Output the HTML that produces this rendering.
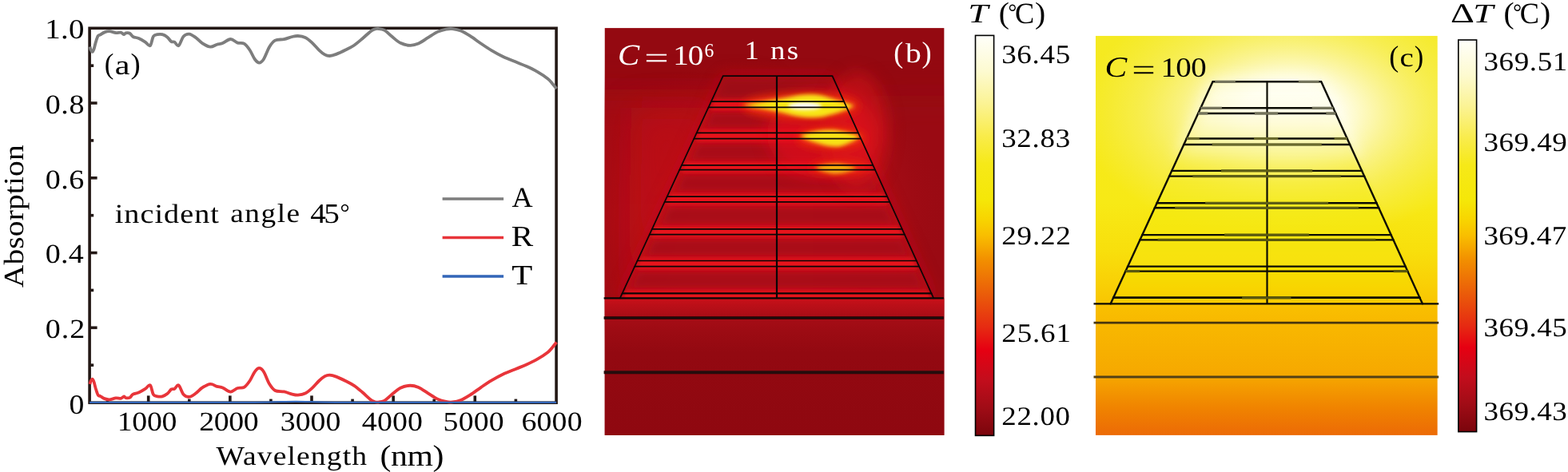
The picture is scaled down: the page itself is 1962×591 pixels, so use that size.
<!DOCTYPE html>
<html><head><meta charset="utf-8"><title>Figure</title>
<style>
html,body{margin:0;padding:0;background:#fff;}
svg{display:block;}
text{font-family:"Liberation Serif","DejaVu Serif",serif;text-rendering:geometricPrecision;}
</style></head>
<body>
<svg width="1962" height="591" viewBox="0 0 1962 591">
<rect width="1962" height="591" fill="#fff"/>
<g fill="none" stroke-linejoin="round" stroke-linecap="butt">
<line x1="185.70" y1="504.25" x2="185.70" y2="495.4" stroke="#231815" stroke-width="3.6"/>
<line x1="134.62" y1="504.25" x2="134.62" y2="499.6" stroke="#231815" stroke-width="3.6"/>
<line x1="287.85" y1="504.25" x2="287.85" y2="495.4" stroke="#231815" stroke-width="3.6"/>
<line x1="236.78" y1="504.25" x2="236.78" y2="499.6" stroke="#231815" stroke-width="3.6"/>
<line x1="390.00" y1="504.25" x2="390.00" y2="495.4" stroke="#231815" stroke-width="3.6"/>
<line x1="338.93" y1="504.25" x2="338.93" y2="499.6" stroke="#231815" stroke-width="3.6"/>
<line x1="492.15" y1="504.25" x2="492.15" y2="495.4" stroke="#231815" stroke-width="3.6"/>
<line x1="441.08" y1="504.25" x2="441.08" y2="499.6" stroke="#231815" stroke-width="3.6"/>
<line x1="594.30" y1="504.25" x2="594.30" y2="495.4" stroke="#231815" stroke-width="3.6"/>
<line x1="543.22" y1="504.25" x2="543.22" y2="499.6" stroke="#231815" stroke-width="3.6"/>
<line x1="645.38" y1="504.25" x2="645.38" y2="499.6" stroke="#231815" stroke-width="3.6"/>
<line x1="112.1" y1="410.30" x2="121.6" y2="410.30" stroke="#231815" stroke-width="3.6"/>
<line x1="112.1" y1="316.55" x2="121.6" y2="316.55" stroke="#231815" stroke-width="3.6"/>
<line x1="112.1" y1="222.80" x2="121.6" y2="222.80" stroke="#231815" stroke-width="3.6"/>
<line x1="112.1" y1="129.05" x2="121.6" y2="129.05" stroke="#231815" stroke-width="3.6"/>
<line x1="112.1" y1="457.18" x2="117.2" y2="457.18" stroke="#231815" stroke-width="3.6"/>
<line x1="112.1" y1="363.43" x2="117.2" y2="363.43" stroke="#231815" stroke-width="3.6"/>
<line x1="112.1" y1="269.68" x2="117.2" y2="269.68" stroke="#231815" stroke-width="3.6"/>
<line x1="112.1" y1="175.93" x2="117.2" y2="175.93" stroke="#231815" stroke-width="3.6"/>
<line x1="112.1" y1="82.18" x2="117.2" y2="82.18" stroke="#231815" stroke-width="3.6"/>
<rect x="112.1" y="35.3" width="584.00" height="468.95" stroke="#231815" stroke-width="3.6" stroke-linejoin="miter"/>
<path d="M112.60,58.50C112.77,59.17 113.12,61.43 113.60,62.50C114.08,63.57 114.85,65.07 115.50,64.90C116.15,64.73 116.82,63.38 117.50,61.50C118.18,59.62 118.75,56.35 119.60,53.60C120.45,50.85 121.58,46.70 122.60,45.00C123.62,43.30 124.33,44.17 125.70,43.40C127.07,42.63 128.93,41.10 130.80,40.40C132.67,39.70 134.53,39.08 136.90,39.20C139.27,39.32 142.62,40.85 145.00,41.10C147.38,41.35 149.50,40.35 151.20,40.70C152.90,41.05 154.18,43.08 155.20,43.20C156.22,43.32 156.10,41.65 157.30,41.40C158.50,41.15 160.87,40.93 162.40,41.70C163.93,42.47 164.63,44.95 166.50,46.00C168.37,47.05 171.07,46.90 173.60,48.00C176.13,49.10 179.32,51.07 181.70,52.60C184.08,54.13 186.20,58.38 187.90,57.20C189.60,56.02 190.38,47.83 191.90,45.50C193.42,43.17 195.13,43.58 197.00,43.20C198.87,42.82 201.05,42.65 203.10,43.20C205.15,43.75 207.42,45.02 209.30,46.50C211.18,47.98 212.88,51.08 214.40,52.10C215.92,53.12 216.88,51.75 218.40,52.60C219.92,53.45 221.62,58.38 223.50,57.20C225.38,56.02 227.48,47.93 229.70,45.50C231.92,43.07 234.27,42.35 236.80,42.60C239.33,42.85 242.18,45.08 244.90,47.00C247.62,48.92 250.03,52.15 253.10,54.10C256.17,56.05 260.25,58.43 263.30,58.70C266.35,58.97 268.85,56.47 271.40,55.70C273.95,54.93 275.75,55.22 278.60,54.10C281.45,52.98 285.38,49.08 288.50,49.00C291.62,48.92 294.47,52.65 297.30,53.60C300.13,54.55 302.95,53.17 305.50,54.70C308.05,56.23 310.40,59.58 312.60,62.80C314.80,66.02 316.75,71.37 318.70,74.00C320.65,76.63 322.42,78.60 324.30,78.60C326.18,78.60 327.87,77.32 330.00,74.00C332.13,70.68 334.73,62.60 337.10,58.70C339.47,54.80 341.15,52.20 344.20,50.60C347.25,49.00 351.83,49.87 355.40,49.10C358.97,48.33 362.70,46.68 365.60,46.00C368.50,45.32 370.08,44.83 372.80,45.00C375.52,45.17 379.02,45.65 381.90,47.00C384.78,48.35 387.20,50.47 390.10,53.10C393.00,55.73 396.58,60.25 399.30,62.80C402.02,65.35 404.20,67.20 406.40,68.40C408.60,69.60 410.12,70.08 412.50,70.00C414.88,69.92 417.30,69.18 420.70,67.90C424.10,66.62 429.17,64.17 432.90,62.30C436.63,60.43 439.70,59.00 443.10,56.70C446.50,54.40 449.90,51.38 453.30,48.50C456.70,45.62 460.97,41.38 463.50,39.40C466.03,37.42 466.87,37.17 468.50,36.60C470.13,36.03 471.18,35.78 473.30,36.00C475.42,36.22 478.33,36.27 481.20,37.90C484.07,39.53 487.18,43.15 490.50,45.80C493.82,48.45 497.35,51.97 501.10,53.80C504.85,55.63 509.25,56.68 513.00,56.80C516.75,56.92 519.85,56.10 523.60,54.50C527.35,52.90 531.52,49.63 535.50,47.20C539.48,44.77 543.73,41.67 547.50,39.90C551.27,38.13 555.02,37.23 558.10,36.60C561.18,35.97 562.92,35.77 566.00,36.10C569.08,36.43 572.85,37.08 576.60,38.60C580.35,40.12 584.30,42.55 588.50,45.20C592.70,47.85 597.38,51.52 601.80,54.50C606.22,57.48 610.37,60.35 615.00,63.10C619.63,65.85 624.52,68.58 629.60,71.00C634.68,73.42 640.63,75.60 645.50,77.60C650.37,79.60 654.38,81.00 658.80,83.00C663.22,85.00 667.58,87.03 672.00,89.60C676.42,92.17 682.13,95.93 685.30,98.40C688.47,100.87 689.17,102.30 691.00,104.40C692.83,106.50 695.42,109.90 696.30,111.00" stroke="#7d7d7d" stroke-width="3.8"/>
<path d="M112.60,481.05C112.77,480.38 113.12,478.12 113.60,477.05C114.08,475.98 114.85,474.48 115.50,474.65C116.15,474.82 116.82,476.17 117.50,478.05C118.18,479.93 118.75,483.20 119.60,485.95C120.45,488.70 121.58,492.85 122.60,494.55C123.62,496.25 124.33,495.38 125.70,496.15C127.07,496.92 128.93,498.45 130.80,499.15C132.67,499.85 134.53,500.47 136.90,500.35C139.27,500.23 142.62,498.70 145.00,498.45C147.38,498.20 149.50,499.20 151.20,498.85C152.90,498.50 154.18,496.47 155.20,496.35C156.22,496.23 156.10,497.90 157.30,498.15C158.50,498.40 160.87,498.62 162.40,497.85C163.93,497.08 164.63,494.60 166.50,493.55C168.37,492.50 171.07,492.65 173.60,491.55C176.13,490.45 179.32,488.48 181.70,486.95C184.08,485.42 186.20,481.17 187.90,482.35C189.60,483.53 190.38,491.72 191.90,494.05C193.42,496.38 195.13,495.97 197.00,496.35C198.87,496.73 201.05,496.90 203.10,496.35C205.15,495.80 207.42,494.53 209.30,493.05C211.18,491.57 212.88,488.47 214.40,487.45C215.92,486.43 216.88,487.80 218.40,486.95C219.92,486.10 221.62,481.17 223.50,482.35C225.38,483.53 227.48,491.62 229.70,494.05C231.92,496.48 234.27,497.20 236.80,496.95C239.33,496.70 242.18,494.47 244.90,492.55C247.62,490.63 250.03,487.40 253.10,485.45C256.17,483.50 260.25,481.12 263.30,480.85C266.35,480.58 268.85,483.08 271.40,483.85C273.95,484.62 275.75,484.33 278.60,485.45C281.45,486.57 285.38,490.47 288.50,490.55C291.62,490.63 294.47,486.90 297.30,485.95C300.13,485.00 302.95,486.38 305.50,484.85C308.05,483.32 310.40,479.97 312.60,476.75C314.80,473.53 316.75,468.18 318.70,465.55C320.65,462.92 322.42,460.95 324.30,460.95C326.18,460.95 327.87,462.23 330.00,465.55C332.13,468.87 334.73,476.95 337.10,480.85C339.47,484.75 341.15,487.35 344.20,488.95C347.25,490.55 351.83,489.68 355.40,490.45C358.97,491.22 362.70,492.87 365.60,493.55C368.50,494.23 370.08,494.72 372.80,494.55C375.52,494.38 379.02,493.90 381.90,492.55C384.78,491.20 387.20,489.08 390.10,486.45C393.00,483.82 396.58,479.30 399.30,476.75C402.02,474.20 404.20,472.35 406.40,471.15C408.60,469.95 410.12,469.47 412.50,469.55C414.88,469.63 417.30,470.37 420.70,471.65C424.10,472.93 429.17,475.38 432.90,477.25C436.63,479.12 439.70,480.55 443.10,482.85C446.50,485.15 449.90,488.17 453.30,491.05C456.70,493.93 460.97,498.17 463.50,500.15C466.03,502.13 466.87,502.38 468.50,502.95C470.13,503.52 471.18,503.77 473.30,503.55C475.42,503.33 478.33,503.28 481.20,501.65C484.07,500.02 487.18,496.40 490.50,493.75C493.82,491.10 497.35,487.58 501.10,485.75C504.85,483.92 509.25,482.87 513.00,482.75C516.75,482.63 519.85,483.45 523.60,485.05C527.35,486.65 531.52,489.92 535.50,492.35C539.48,494.78 543.73,497.88 547.50,499.65C551.27,501.42 555.02,502.32 558.10,502.95C561.18,503.58 562.92,503.78 566.00,503.45C569.08,503.12 572.85,502.47 576.60,500.95C580.35,499.43 584.30,497.00 588.50,494.35C592.70,491.70 597.38,488.03 601.80,485.05C606.22,482.07 610.37,479.20 615.00,476.45C619.63,473.70 624.52,470.97 629.60,468.55C634.68,466.13 640.63,463.95 645.50,461.95C650.37,459.95 654.38,458.55 658.80,456.55C663.22,454.55 667.58,452.52 672.00,449.95C676.42,447.38 682.13,443.62 685.30,441.15C688.47,438.68 689.17,437.25 691.00,435.15C692.83,433.05 695.42,429.65 696.30,428.55" stroke="#e8353a" stroke-width="3.8"/>
<path d="M112.1,503.8 L318,503.8 C345,503.8 355,502.8 370,502.8 C385,502.8 395,503.8 420,503.8 L696.1,503.8" stroke="#3366b8" stroke-width="2.3"/>
<line x1="553.6" y1="248.9" x2="630.1" y2="248.9" stroke="#7d7d7d" stroke-width="3.5"/>
<line x1="553.6" y1="297.4" x2="630.1" y2="297.4" stroke="#e8353a" stroke-width="3.5"/>
<line x1="553.6" y1="345.9" x2="630.1" y2="345.9" stroke="#3366b8" stroke-width="3.5"/>
</g>
<defs>
<clipPath id="cb"><rect x="756.5" y="35.1" width="425.0999999999999" height="509.79999999999995"/></clipPath>
<radialGradient id="bglow" cx="0.5" cy="0.5" r="0.5">
 <stop offset="0" stop-color="#bc0f19" stop-opacity="1"/>
 <stop offset="0.5" stop-color="#ba0f19" stop-opacity="1"/>
 <stop offset="0.75" stop-color="#b00e17" stop-opacity="0.4"/>
 <stop offset="1" stop-color="#a00c14" stop-opacity="0"/>
</radialGradient>
<filter id="bl8" x="-50%" y="-50%" width="200%" height="200%"><feGaussianBlur stdDeviation="8"/></filter>
<filter id="bl14" x="-60%" y="-60%" width="220%" height="220%"><feGaussianBlur stdDeviation="20"/></filter>
<filter id="bl2" x="-50%" y="-100%" width="200%" height="300%"><feGaussianBlur stdDeviation="2"/></filter>
<filter id="bl25" x="-50%" y="-100%" width="200%" height="300%"><feGaussianBlur stdDeviation="2.5"/></filter>
<filter id="bl4" x="-50%" y="-50%" width="200%" height="200%"><feGaussianBlur stdDeviation="4"/></filter>
<filter id="bl3" x="-50%" y="-50%" width="200%" height="200%"><feGaussianBlur stdDeviation="3"/></filter>
<filter id="bl6" x="-50%" y="-50%" width="200%" height="200%"><feGaussianBlur stdDeviation="6"/></filter>
<filter id="bl10" x="-50%" y="-50%" width="200%" height="200%"><feGaussianBlur stdDeviation="10"/></filter>
<linearGradient id="bsub" x1="0" y1="373" x2="0" y2="545" gradientUnits="userSpaceOnUse">
 <stop offset="0" stop-color="#cc1019"/>
 <stop offset="0.05" stop-color="#bc0f18"/>
 <stop offset="0.145" stop-color="#a60d16"/>
 <stop offset="0.25" stop-color="#9c0b13"/>
 <stop offset="0.40" stop-color="#930911"/>
 <stop offset="1" stop-color="#8f0810"/>
</linearGradient>
<filter id="bl1" filterUnits="userSpaceOnUse" x="700" y="380" width="1200" height="120"><feGaussianBlur stdDeviation="0.55"/></filter>
</defs>
<g clip-path="url(#cb)">
<rect x="756.5" y="35.1" width="425.0999999999999" height="509.79999999999995" fill="#940911"/>
<rect x="696.5" y="112" width="263.5" height="290" fill="#a80d16" opacity="0.75" filter="url(#bl14)"/>
<rect x="1090" y="120" width="150" height="280" fill="#a00c14" opacity="0.5" filter="url(#bl14)"/>
<ellipse cx="942" cy="262" rx="242" ry="188" fill="url(#bglow)"/>
<path d="M790,135 L900,135 L800,365 L786,365 Z" fill="#bc0f19" opacity="0.8" filter="url(#bl14)"/>
<path d="M904.7,95.2 L1041.5,95.2 L1168.2,373.3 L775.8,373.3 Z" fill="#c4101a" opacity="0.9" filter="url(#bl10)"/>
<g fill="#980b13" opacity="0.6" filter="url(#bl4)"><path d="M909.5,102.2 L1036.7,102.2 L1044.8,120.1 L901.2,120.1 Z"/><path d="M891.3,141.3 L1054.5,141.3 L1062.7,159.3 L883.0,159.3 Z"/><path d="M873.1,180.7 L1072.5,180.7 L1081.2,199.8 L864.2,199.8 Z"/><path d="M855.0,219.6 L1090.2,219.6 L1099.1,239.1 L846.0,239.1 Z"/><path d="M836.4,259.8 L1108.5,259.8 L1117.6,279.9 L827.1,279.9 Z"/><path d="M817.5,300.6 L1127.1,300.6 L1135.7,319.5 L808.7,319.5 Z"/><path d="M799.0,340.6 L1145.3,340.6 L1154.3,360.3 L789.8,360.3 Z"/></g>
<g fill="#ee121c" opacity="0.85" filter="url(#bl25)"><path d="M894.5,123.6 L1051.4,123.6 L1057.9,137.8 L888.0,137.8 Z"/><path d="M876.4,162.8 L1069.3,162.8 L1075.9,177.2 L869.7,177.2 Z"/><path d="M857.6,203.3 L1087.7,203.3 L1093.6,216.1 L851.7,216.1 Z"/><path d="M839.4,242.6 L1105.7,242.6 L1111.9,256.3 L833.0,256.3 Z"/><path d="M820.5,283.4 L1124.2,283.4 L1130.5,297.1 L814.1,297.1 Z"/><path d="M802.1,323.0 L1142.3,323.0 L1148.7,337.1 L795.6,337.1 Z"/><path d="M783.2,363.8 L1160.9,363.8 L1166.8,376.8 L777.2,376.8 Z"/></g>
<path d="M906,97 L1040,97 L1052,124 L893,124 Z" fill="#9a0b13" opacity="0.7" filter="url(#bl4)"/>
<ellipse cx="1030" cy="168" rx="70" ry="55" fill="#e8101c" opacity="0.6" filter="url(#bl10)"/>
<ellipse cx="1072" cy="165" rx="40" ry="75" fill="#e0161c" opacity="0.5" filter="url(#bl10)"/>
<rect x="756.5" y="373.3" width="425.0999999999999" height="171.59999999999997" fill="url(#bsub)"/>
<g filter="url(#bl6)"><ellipse cx="1002" cy="132.5" rx="72" ry="15" fill="#f2300e"/><ellipse cx="1040" cy="173" rx="42" ry="12" fill="#f2300e"/><ellipse cx="1050" cy="210" rx="36" ry="8" fill="#f0300e" opacity="0.8"/></g>
<g filter="url(#bl25)"><path d="M928,131.5 C950,128 975,124 990,121 C1000,118 1020,117 1030,120 C1045,125 1060,129 1069,132.5 C1060,138 1040,144 1028,146.5 C1015,148 1000,147 990,144 C975,139 950,136 928,131.5 Z" fill="#f8e616"/><path d="M1001,170 C1012,165 1030,161.5 1045,163 C1058,165 1070,168 1076,171 C1070,176 1060,181 1050,183.5 C1040,184 1030,182 1022,179 C1012,176 1005,173 1001,170 Z" fill="#f8e416"/><path d="M1020,210 C1028,206 1040,204.5 1050,205 C1058,206 1066,208 1072,210.5 C1064,215 1052,218 1042,217.5 C1032,216 1025,213 1020,210 Z" fill="#f5b010"/></g>
<g filter="url(#bl2)"><ellipse cx="1007" cy="132.8" rx="21" ry="4.8" fill="#ffffff"/></g>
</g>
<g fill="none" stroke="#0a0606" stroke-width="1.7" stroke-linecap="round">
<path d="M775.8,373.3 L904.7,95.2 L1041.5,95.2 L1168.2,373.3"/>
<line x1="972" y1="95.2" x2="972" y2="373.3" stroke-width="2.2" stroke-linecap="butt"/>
<line x1="889.9" y1="127.1" x2="1056.0" y2="127.1"/>
<line x1="886.6" y1="134.3" x2="1059.3" y2="134.3"/>
<line x1="871.7" y1="166.3" x2="1073.9" y2="166.3"/>
<line x1="868.3" y1="173.7" x2="1077.3" y2="173.7"/>
<line x1="853.0" y1="206.8" x2="1092.3" y2="206.8"/>
<line x1="850.3" y1="212.6" x2="1095.0" y2="212.6"/>
<line x1="834.8" y1="246.1" x2="1110.2" y2="246.1"/>
<line x1="831.7" y1="252.8" x2="1113.3" y2="252.8"/>
<line x1="815.8" y1="286.9" x2="1128.8" y2="286.9"/>
<line x1="812.7" y1="293.6" x2="1131.9" y2="293.6"/>
<line x1="797.5" y1="326.5" x2="1146.9" y2="326.5"/>
<line x1="794.2" y1="333.6" x2="1150.1" y2="333.6"/>
<line x1="778.6" y1="367.3" x2="1165.5" y2="367.3"/>
<line x1="778.6" y1="367.3" x2="1165.5" y2="367.3"/>
</g>
<path d="M755.6,373.3 L1180.8,373.3" fill="none" stroke="#0a0606" stroke-width="2.2"/>
<path d="M755.6,398 L1180.8,398" fill="none" stroke="#1c0809" stroke-width="3.4" filter="url(#bl1)"/>
<path d="M755.6,466.2 L1180.8,466.2" fill="none" stroke="#260a0c" stroke-width="4.0" filter="url(#bl1)"/>
<defs><linearGradient id="cbar" x1="0" y1="0" x2="0" y2="1">
<stop offset="0" stop-color="#fffffa"/>
<stop offset="0.09" stop-color="#fdfad0"/>
<stop offset="0.17" stop-color="#fbf394"/>
<stop offset="0.25" stop-color="#f9ec4c"/>
<stop offset="0.32" stop-color="#f6e918"/>
<stop offset="0.41" stop-color="#f5e708"/>
<stop offset="0.46" stop-color="#f8d400"/>
<stop offset="0.50" stop-color="#f9be00"/>
<stop offset="0.56" stop-color="#f29000"/>
<stop offset="0.65" stop-color="#ea5a0a"/>
<stop offset="0.73" stop-color="#e62a12"/>
<stop offset="0.785" stop-color="#e60012"/>
<stop offset="0.86" stop-color="#c30d1c"/>
<stop offset="0.93" stop-color="#a00c16"/>
<stop offset="1" stop-color="#7a050c"/>
</linearGradient></defs>
<rect x="1220.5" y="44.4" width="23.1" height="501.0" fill="url(#cbar)" stroke="#000" stroke-width="1.6"/>
<rect x="1824.8" y="50.0" width="22.8" height="490.6" fill="url(#cbar)" stroke="#000" stroke-width="1.6"/>
<defs>
<clipPath id="cc"><rect x="1370.8" y="44.8" width="428.0" height="500.09999999999997"/></clipPath>
<linearGradient id="cbg" x1="0" y1="44.8" x2="0" y2="544.9" gradientUnits="userSpaceOnUse">
 <stop offset="0" stop-color="#f5ea22"/>
 <stop offset="0.42" stop-color="#f7e916"/>
 <stop offset="0.54" stop-color="#f8df0c"/>
 <stop offset="0.62" stop-color="#f9d006"/>
 <stop offset="0.668" stop-color="#f9c602"/>
 <stop offset="0.674" stop-color="#f9c000"/>
 <stop offset="0.72" stop-color="#f8b800"/>
 <stop offset="0.85" stop-color="#f6a800"/>
 <stop offset="0.93" stop-color="#f08400"/>
 <stop offset="1" stop-color="#ec6a06"/>
</linearGradient>
<radialGradient id="cglow" cx="1613" cy="142" r="260" gradientUnits="userSpaceOnUse" gradientTransform="translate(1613 142) scale(1 0.62) translate(-1613 -142)">
 <stop offset="0" stop-color="#fffff8" stop-opacity="1"/>
 <stop offset="0.22" stop-color="#fffef0" stop-opacity="1"/>
 <stop offset="0.33" stop-color="#fefbd2" stop-opacity="0.95"/>
 <stop offset="0.47" stop-color="#fbf5a0" stop-opacity="0.9"/>
 <stop offset="0.7" stop-color="#f8f070" stop-opacity="0.6"/>
 <stop offset="0.9" stop-color="#f7ee64" stop-opacity="0.2"/>
 <stop offset="1" stop-color="#f7ee64" stop-opacity="0"/>
</radialGradient>
<linearGradient id="ctrap" x1="0" y1="102" x2="0" y2="380" gradientUnits="userSpaceOnUse">
 <stop offset="0" stop-color="#f8ef60" stop-opacity="0"/>
 <stop offset="0.12" stop-color="#f8ef60" stop-opacity="0.05"/>
 <stop offset="0.3" stop-color="#f6ec38" stop-opacity="0.4"/>
 <stop offset="0.6" stop-color="#f5ea0c" stop-opacity="0.8"/>
 <stop offset="0.82" stop-color="#f7e208" stop-opacity="0.9"/>
 <stop offset="1" stop-color="#f9ce02" stop-opacity="0.9"/>
</linearGradient>
</defs>
<g clip-path="url(#cc)">
<rect x="1370.8" y="44.8" width="428.0" height="500.09999999999997" fill="url(#cbg)"/>
<rect x="1370.8" y="44.8" width="428.0" height="335.2" fill="url(#cglow)"/>
<path d="M1515,100 L1656,100 L1700,195 L1474,195 Z" fill="#fffff4" opacity="0.7" filter="url(#bl10)"/>
<path d="M1517.5,102.3 L1653.2,102.3 L1779.9,380.3 L1389.7,380.3 Z" fill="url(#ctrap)" filter="url(#bl3)"/>
</g>
<g fill="none" stroke="#0c0c04" stroke-width="2.4" stroke-linecap="round">
<path d="M1389.7,380.3 L1517.5,102.3 L1653.2,102.3 L1779.9,380.3"/>
<line x1="1585.5" y1="102.3" x2="1585.5" y2="380.3" stroke-width="2.2" stroke-linecap="butt"/>
<line x1="1502.3" y1="135.3" x2="1668.2" y2="135.3"/>
<line x1="1499.2" y1="142.0" x2="1671.3" y2="142.0"/>
<line x1="1484.8" y1="173.5" x2="1685.6" y2="173.5"/>
<line x1="1481.3" y1="181.0" x2="1689.1" y2="181.0"/>
<line x1="1466.2" y1="213.9" x2="1704.1" y2="213.9"/>
<line x1="1463.1" y1="220.6" x2="1707.1" y2="220.6"/>
<line x1="1447.6" y1="254.3" x2="1722.5" y2="254.3"/>
<line x1="1444.9" y1="260.3" x2="1725.2" y2="260.3"/>
<line x1="1429.3" y1="294.1" x2="1740.6" y2="294.1"/>
<line x1="1426.4" y1="300.4" x2="1743.5" y2="300.4"/>
<line x1="1411.2" y1="333.6" x2="1758.6" y2="333.6"/>
<line x1="1408.4" y1="339.6" x2="1761.4" y2="339.6"/>
<line x1="1393.1" y1="372.8" x2="1776.5" y2="372.8"/>
<line x1="1393.1" y1="372.8" x2="1776.5" y2="372.8"/>
</g>
<path d="M1368.5,380.3 L1800.2,380.3" fill="none" stroke="#0c0a04" stroke-width="2.2"/>
<path d="M1368.5,404.1 L1800.2,404.1" fill="none" stroke="#463610" stroke-width="2.6" filter="url(#bl1)"/>
<path d="M1368.5,472 L1800.2,472" fill="none" stroke="#524016" stroke-width="2.8" filter="url(#bl1)"/>
<g stroke="#8a8a3c" stroke-width="3.2" stroke-linecap="butt" fill="none"><line x1="1520.2" y1="102.3" x2="1546.0" y2="102.3" stroke="#74745c"/><line x1="1624.7" y1="102.3" x2="1650.5" y2="102.3" stroke="#74745c"/><line x1="1502.3" y1="135.3" x2="1528.9" y2="135.3" stroke="#74745c"/><line x1="1641.7" y1="135.3" x2="1668.2" y2="135.3" stroke="#74745c"/><line x1="1499.2" y1="142.0" x2="1511.3" y2="142.0" stroke="#74745c"/><line x1="1569.8" y1="142.0" x2="1599.0" y2="142.0" stroke="#74745c"/><line x1="1659.3" y1="142.0" x2="1671.3" y2="142.0" stroke="#74745c"/><line x1="1484.8" y1="173.5" x2="1500.8" y2="173.5" stroke="#6a6a2c"/><line x1="1569.1" y1="173.5" x2="1599.3" y2="173.5" stroke="#6a6a2c"/><line x1="1669.6" y1="173.5" x2="1685.6" y2="173.5" stroke="#6a6a2c"/><line x1="1516.6" y1="181.0" x2="1653.8" y2="181.0" stroke="#6a6a2c"/><line x1="1528.0" y1="213.9" x2="1642.2" y2="213.9" stroke="#5e5e16"/><line x1="1492.4" y1="220.6" x2="1677.8" y2="220.6" stroke="#5e5e16"/><line x1="1508.1" y1="254.3" x2="1662.0" y2="254.3" stroke="#5e5e16"/><line x1="1470.1" y1="260.3" x2="1700.0" y2="260.3" stroke="#5e5e16"/><line x1="1532.1" y1="294.1" x2="1637.9" y2="294.1" stroke="#5a580e"/><line x1="1448.6" y1="300.4" x2="1721.3" y2="300.4" stroke="#5a580e"/><line x1="1408.4" y1="339.6" x2="1426.1" y2="339.6" stroke="#5a580e"/><line x1="1743.7" y1="339.6" x2="1761.4" y2="339.6" stroke="#5a580e"/><line x1="1554.1" y1="372.8" x2="1615.5" y2="372.8" stroke="#5a580e"/></g>
<g>
<text transform="translate(56.67,423.09) scale(1.1200,1)" font-size="33.97" letter-spacing="0.875" fill="#000">0.2</text>
<text transform="translate(56.67,329.34) scale(1.1200,1)" font-size="33.97" letter-spacing="0.196" fill="#000">0.4</text>
<text transform="translate(56.67,235.59) scale(1.1200,1)" font-size="33.97" letter-spacing="0.451" fill="#000">0.6</text>
<text transform="translate(56.67,141.84) scale(1.1200,1)" font-size="33.97" letter-spacing="0.578" fill="#000">0.8</text>
<text transform="translate(56.20,48.08) scale(1.1200,1)" font-size="34.71" letter-spacing="0.344" fill="#000">1.0</text>
<text transform="translate(86.39,517.65) scale(1.0906,1)" font-size="34.52" fill="#000">0</text>
<text transform="translate(146.69,539.26) scale(1.1200,1)" font-size="33.78" letter-spacing="-0.278" fill="#000">1000</text>
<text transform="translate(249.29,539.26) scale(1.1200,1)" font-size="33.78" letter-spacing="-0.368" fill="#000">2000</text>
<text transform="translate(350.80,539.26) scale(1.1200,1)" font-size="33.78" letter-spacing="-0.044" fill="#000">3000</text>
<text transform="translate(452.84,539.26) scale(1.1200,1)" font-size="33.78" letter-spacing="0.123" fill="#000">4000</text>
<text transform="translate(554.62,539.26) scale(1.1200,1)" font-size="33.78" letter-spacing="0.099" fill="#000">5000</text>
<text transform="translate(652.49,539.26) scale(1.1200,1)" font-size="33.78" letter-spacing="0.138" fill="#000">6000</text>
<text fill="#000"><tspan x="270.40" y="581.99" font-size="33.52" letter-spacing="1.018" textLength="189.75" lengthAdjust="spacingAndGlyphs">Wavelength</tspan> <tspan x="475.63" y="583.09" font-size="37.25" letter-spacing="-0.412" textLength="79.24" lengthAdjust="spacingAndGlyphs">(nm)</tspan></text>
<text transform="translate(29.13,360.19) rotate(-90) scale(1.1200,1)" font-size="35.15" letter-spacing="0.171" fill="#000">Absorption</text>
<text fill="#000"><tspan x="130.71" y="92.23" font-size="36.58" textLength="11.64" lengthAdjust="spacingAndGlyphs">(</tspan><tspan x="143.82" y="93.25" font-size="34.79" textLength="18.77" lengthAdjust="spacingAndGlyphs">a</tspan><tspan x="163.61" y="92.23" font-size="36.58" textLength="12.16" lengthAdjust="spacingAndGlyphs">)</tspan></text>
<text fill="#000"><tspan x="143.74" y="278.66" font-size="34.04" letter-spacing="0.929" textLength="131.14" lengthAdjust="spacingAndGlyphs">incident</tspan> <tspan x="288.29" y="278.14" font-size="33.30" letter-spacing="1.357" textLength="88.36" lengthAdjust="spacingAndGlyphs">angle</tspan> <tspan x="388.21" y="278.65" font-size="35.06" letter-spacing="-2.328" textLength="34.05" lengthAdjust="spacingAndGlyphs">45</tspan><tspan x="425.57" y="275.82" font-size="30.41" textLength="12.06" lengthAdjust="spacingAndGlyphs">°</tspan></text>
<text transform="translate(640.54,258.60) scale(1.0202,1)" font-size="35.45" fill="#000">A</text>
<text transform="translate(639.77,308.20) scale(1.1170,1)" font-size="36.79" fill="#000">R</text>
<text transform="translate(640.15,355.90) scale(1.2184,1)" font-size="34.96" fill="#000">T</text>
<text fill="#fff"><tspan x="772.96" y="81.03" font-size="36.88" font-style="italic" textLength="27.22" lengthAdjust="spacingAndGlyphs">C</tspan> <tspan x="806.20" y="84.69" font-size="38.00" textLength="30.44" lengthAdjust="spacingAndGlyphs">=</tspan> <tspan x="842.37" y="80.65" font-size="34.96" letter-spacing="-1.128" textLength="36.63" lengthAdjust="spacingAndGlyphs">10</tspan><tspan x="881.40" y="70.56" font-size="24.09" textLength="11.81" lengthAdjust="spacingAndGlyphs">6</tspan></text>
<text transform="translate(931.58,74.27) scale(1.1200,1)" font-size="32.84" letter-spacing="2.168" fill="#fff">1 ns</text>
<text fill="#fff"><tspan x="1118.37" y="78.31" font-size="37.13" textLength="12.03" lengthAdjust="spacingAndGlyphs">(</tspan><tspan x="1132.90" y="78.06" font-size="34.33" textLength="19.78" lengthAdjust="spacingAndGlyphs">b</tspan><tspan x="1153.61" y="78.31" font-size="37.13" textLength="12.16" lengthAdjust="spacingAndGlyphs">)</tspan></text>
<text transform="translate(1253.14,78.60) scale(1.1200,1)" font-size="33.06" letter-spacing="0.608" fill="#000">36.45</text>
<text transform="translate(1253.15,184.21) scale(1.1200,1)" font-size="32.94" letter-spacing="0.673" fill="#000">32.83</text>
<text transform="translate(1253.33,305.80) scale(1.1200,1)" font-size="33.06" letter-spacing="0.690" fill="#000">29.22</text>
<text transform="translate(1253.33,427.70) scale(1.1200,1)" font-size="33.06" letter-spacing="0.732" fill="#000">25.61</text>
<text transform="translate(1253.33,532.31) scale(1.1200,1)" font-size="32.94" letter-spacing="0.612" fill="#000">22.00</text>
<text transform="translate(1856.44,88.00) scale(1.1200,1)" font-size="33.06" letter-spacing="0.562" fill="#000">369.51</text>
<text transform="translate(1856.44,189.30) scale(1.1200,1)" font-size="33.06" letter-spacing="0.430" fill="#000">369.49</text>
<text transform="translate(1856.44,305.80) scale(1.1200,1)" font-size="33.06" letter-spacing="0.347" fill="#000">369.47</text>
<text transform="translate(1856.44,421.00) scale(1.1200,1)" font-size="33.06" letter-spacing="0.430" fill="#000">369.45</text>
<text transform="translate(1856.44,526.00) scale(1.1200,1)" font-size="33.06" letter-spacing="0.430" fill="#000">369.43</text>
<text fill="#000"><tspan x="1211.36" y="28.40" font-size="33.74" font-style="italic" textLength="25.18" lengthAdjust="spacingAndGlyphs">T</tspan> <tspan x="1249.82" y="29.02" font-size="38.02" textLength="13.19" lengthAdjust="spacingAndGlyphs">(</tspan><tspan x="1261.52" y="24.47" font-size="27.77" textLength="10.75" lengthAdjust="spacingAndGlyphs">°</tspan><tspan x="1269.95" y="29.03" font-size="36.88" textLength="24.23" lengthAdjust="spacingAndGlyphs">C</tspan><tspan x="1295.01" y="29.02" font-size="38.02" textLength="13.19" lengthAdjust="spacingAndGlyphs">)</tspan></text>
<text fill="#000"><tspan x="1815.06" y="28.40" font-size="34.55" textLength="29.92" lengthAdjust="spacingAndGlyphs">Δ</tspan><tspan x="1843.36" y="28.40" font-size="33.74" font-style="italic" textLength="25.18" lengthAdjust="spacingAndGlyphs">T</tspan> <tspan x="1881.42" y="29.02" font-size="38.02" textLength="13.19" lengthAdjust="spacingAndGlyphs">(</tspan><tspan x="1893.32" y="24.47" font-size="27.77" textLength="10.75" lengthAdjust="spacingAndGlyphs">°</tspan><tspan x="1901.75" y="29.03" font-size="36.88" textLength="24.23" lengthAdjust="spacingAndGlyphs">C</tspan><tspan x="1927.11" y="29.02" font-size="38.02" textLength="13.19" lengthAdjust="spacingAndGlyphs">)</tspan></text>
<text fill="#000"><tspan x="1382.41" y="95.94" font-size="36.13" font-style="italic" textLength="27.75" lengthAdjust="spacingAndGlyphs">C</tspan> <tspan x="1416.29" y="99.89" font-size="38.00" textLength="29.47" lengthAdjust="spacingAndGlyphs">=</tspan> <tspan x="1452.40" y="95.85" font-size="34.67" letter-spacing="-0.440" textLength="56.76" lengthAdjust="spacingAndGlyphs">100</tspan></text>
<text fill="#000"><tspan x="1738.37" y="82.71" font-size="37.13" textLength="12.03" lengthAdjust="spacingAndGlyphs">(</tspan><tspan x="1751.44" y="82.86" font-size="33.54" textLength="17.28" lengthAdjust="spacingAndGlyphs">c</tspan><tspan x="1769.68" y="82.71" font-size="37.13" textLength="11.51" lengthAdjust="spacingAndGlyphs">)</tspan></text>
</g>
</svg>
</body></html>
